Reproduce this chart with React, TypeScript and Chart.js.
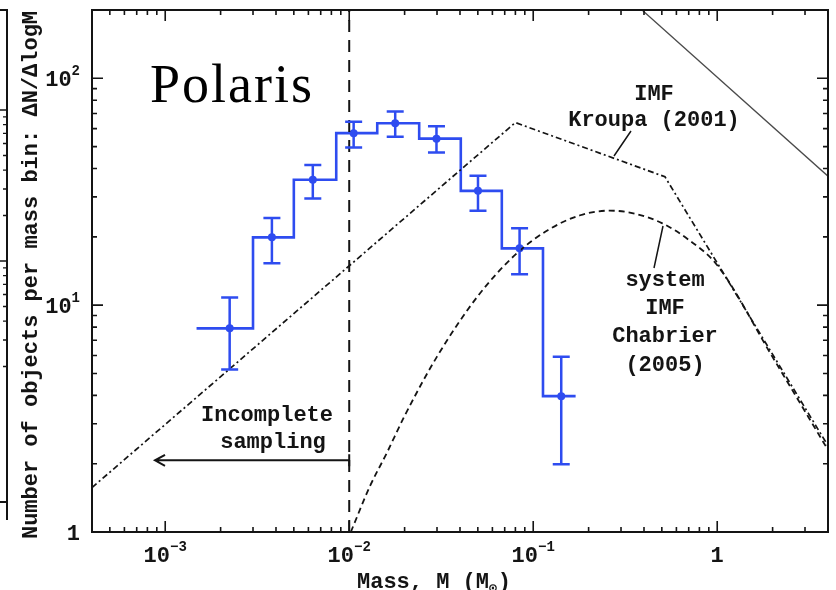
import React, { useEffect, useRef } from "react";
import { Chart, registerables } from "chart.js";

Chart.register(...registerables);

// Polaris mass function: log-spaced mass bins (Msun) and object counts per bin
const binEdges = [0.00148, 0.003, 0.005, 0.0085, 0.0142, 0.024, 0.0404, 0.0675, 0.113, 0.17];
const binMass = [0.00224, 0.0038, 0.00634, 0.01057, 0.01778, 0.0298, 0.0501, 0.0843, 0.142];
const binCounts = [7.9, 19.9, 35.7, 57.3, 63.4, 54.2, 31.9, 17.8, 3.97];
const countsHigh = [10.8, 24.2, 41.5, 64.4, 71.3, 61.5, 37.2, 21.8, 5.93];
const countsLow = [5.2, 15.3, 29.5, 49.5, 55.3, 47.1, 26.1, 13.7, 1.99];

// Kroupa (2001) IMF, broken power law vertices
const kroupaMass = [0.0004, 0.08, 0.52, 4];
const kroupaN = [1.57, 63.8, 36.8, 2.4];

// Chabrier (2005) system IMF
const chabrierMass = [0.0102, 0.013, 0.016, 0.02, 0.03, 0.05, 0.08, 0.12, 0.18, 0.26, 0.35, 0.5, 0.7, 1.0, 2.0, 4.0];
const chabrierN = [1.0, 1.6, 2.23, 3.25, 5.93, 10.96, 16.7, 21.4, 24.9, 26.1, 25.4, 23.0, 19.4, 15.0, 5.9, 2.3];

// thin solid reference line in the upper right corner
const refMass = [0.3, 4];
const refN = [242, 37];

// completeness limit and the "incomplete sampling" arrow
const completenessMass = 0.01;
const arrowTipMass = 0.00088;
const arrowLevel = 2.07;

// axis ticks (mantissa, exponent)
const xTickValues = [0.001, 0.01, 0.1, 1];
const xTickLabels: [string, string][] = [["10", "−3"], ["10", "−2"], ["10", "−1"], ["1", ""]];
const yTickValues = [1, 10, 100];
const yTickLabels: [string, string][] = [["1", ""], ["10", "1"], ["10", "2"]];

const X_MIN = 0.0004;
const X_MAX = 4;
const Y_MIN = 1;
const Y_MAX = 200;

const BLUE = "rgb(46, 76, 240)";
const INK = "#141414";
const MONO = '"Liberation Mono", "Courier New", monospace';
const LABEL_FONT = `bold 22px ${MONO}`;
const SUP_FONT = `bold 14px ${MONO}`;

function drawPower(ctx: CanvasRenderingContext2D, base: string, exp: string, x: number, y: number, align: "center" | "right") {
  ctx.font = LABEL_FONT;
  const wb = ctx.measureText(base).width;
  ctx.font = SUP_FONT;
  const we = exp ? ctx.measureText(exp).width : 0;
  const total = wb + we;
  const x0 = align === "center" ? x - total / 2 : x - total;
  ctx.textAlign = "left";
  ctx.textBaseline = "alphabetic";
  ctx.font = LABEL_FONT;
  ctx.fillText(base, x0, y);
  if (exp) {
    ctx.font = SUP_FONT;
    ctx.fillText(exp, x0 + wb, y - 11);
  }
}

const decorPlugin = {
  id: "decor",
  afterDatasetsDraw(chart: any) {
    const { ctx, scales } = chart;
    const xs = scales.x;
    const ys = scales.y;
    // error bars on the binned counts
    ctx.save();
    ctx.strokeStyle = BLUE;
    ctx.lineWidth = 2.5;
    binMass.forEach((m, i) => {
      const px = xs.getPixelForValue(m);
      const top = ys.getPixelForValue(countsHigh[i]);
      const bot = ys.getPixelForValue(countsLow[i]);
      ctx.beginPath();
      ctx.moveTo(px, top);
      ctx.lineTo(px, bot);
      ctx.moveTo(px - 8.5, top);
      ctx.lineTo(px + 8.5, top);
      ctx.moveTo(px - 8.5, bot);
      ctx.lineTo(px + 8.5, bot);
      ctx.stroke();
    });
    ctx.restore();
  },
  afterDraw(chart: any) {
    const { ctx, chartArea: a, scales } = chart;
    const xs = scales.x;
    const ys = scales.y;
    ctx.save();
    ctx.strokeStyle = INK;
    ctx.fillStyle = INK;

    // frame
    ctx.lineWidth = 2;
    ctx.strokeRect(a.left, a.top, a.right - a.left, a.bottom - a.top);

    // log ticks, pointing inward on all four sides
    ctx.lineWidth = 1.6;
    ctx.beginPath();
    for (let n = -4; n <= 0; n++) {
      for (let k = 1; k <= 9; k++) {
        const v = k * Math.pow(10, n);
        if (v < X_MIN * 0.999 || v > X_MAX * 1.001) continue;
        const px = xs.getPixelForValue(v);
        const len = k === 1 ? 11 : 5;
        ctx.moveTo(px, a.bottom);
        ctx.lineTo(px, a.bottom - len);
        ctx.moveTo(px, a.top);
        ctx.lineTo(px, a.top + len);
      }
    }
    for (let n = 0; n <= 2; n++) {
      for (let k = 1; k <= 9; k++) {
        const v = k * Math.pow(10, n);
        if (v < Y_MIN * 0.999 || v > Y_MAX * 1.001) continue;
        const py = ys.getPixelForValue(v);
        const len = k === 1 ? 11 : 5;
        ctx.moveTo(a.left, py);
        ctx.lineTo(a.left + len, py);
        ctx.moveTo(a.right, py);
        ctx.lineTo(a.right - len, py);
      }
    }
    ctx.stroke();

    // tick labels
    xTickValues.forEach((v, i) => {
      drawPower(ctx, xTickLabels[i][0], xTickLabels[i][1], xs.getPixelForValue(v), a.bottom + 30, "center");
    });
    yTickValues.forEach((v, i) => {
      drawPower(ctx, yTickLabels[i][0], yTickLabels[i][1], a.left - 12, ys.getPixelForValue(v) + 8, "right");
    });

    // axis titles
    ctx.font = LABEL_FONT;
    ctx.textAlign = "left";
    ctx.textBaseline = "alphabetic";
    const xt = "Mass, M (M";
    const xtX = 357;
    const xtY = a.bottom + 56;
    ctx.fillText(xt, xtX, xtY);
    const wxt = ctx.measureText(xt).width;
    ctx.font = `bold 13px ${MONO}`;
    ctx.fillText("⊙", xtX + wxt, xtY + 4);
    const wsun = ctx.measureText("⊙").width;
    ctx.font = LABEL_FONT;
    ctx.fillText(")", xtX + wxt + wsun + 1, xtY);

    ctx.save();
    ctx.translate(37, 275);
    ctx.rotate(-Math.PI / 2);
    ctx.textAlign = "center";
    ctx.fillText("Number of objects per mass bin: ΔN/ΔlogM", 0, 0);
    ctx.restore();

    // curve annotations
    ctx.textAlign = "center";
    ctx.textBaseline = "middle";
    ctx.font = LABEL_FONT;
    ctx.fillText("IMF", 654, 94);
    ctx.fillText("Kroupa (2001)", 654, 120);
    ctx.fillText("system", 665, 280);
    ctx.fillText("IMF", 665, 308);
    ctx.fillText("Chabrier", 665, 336);
    ctx.fillText("(2005)", 665, 365);
    ctx.fillText("Incomplete", 267, 415);
    ctx.fillText("sampling", 273, 442);

    ctx.lineWidth = 1.5;
    ctx.beginPath();
    ctx.moveTo(631, 131);
    ctx.lineTo(614, 156);
    ctx.moveTo(654, 268);
    ctx.lineTo(663, 226);
    ctx.stroke();

    // incomplete-sampling arrow
    const ax0 = xs.getPixelForValue(completenessMass);
    const ax1 = xs.getPixelForValue(arrowTipMass);
    const ay = ys.getPixelForValue(arrowLevel);
    ctx.lineWidth = 2;
    ctx.beginPath();
    ctx.moveTo(ax0, ay);
    ctx.lineTo(ax1, ay);
    ctx.moveTo(ax1 + 10, ay - 5.5);
    ctx.lineTo(ax1, ay);
    ctx.lineTo(ax1 + 10, ay + 5.5);
    ctx.moveTo(ax0, ay - 6);
    ctx.lineTo(ax0, ay + 6);
    ctx.stroke();

    // title
    ctx.font = '54px "Liberation Serif", "Times New Roman", serif';
    (ctx as any).letterSpacing = "2px";
    ctx.textAlign = "left";
    ctx.textBaseline = "alphabetic";
    ctx.fillStyle = "#000";
    ctx.fillText("Polaris", 150, 102);
    (ctx as any).letterSpacing = "0px";

    // edge of the neighbouring panel
    ctx.lineWidth = 2;
    ctx.beginPath();
    ctx.moveTo(0, 10);
    ctx.lineTo(7, 10);
    ctx.lineTo(7, 520);
    ctx.moveTo(0, 502);
    ctx.lineTo(7, 502);
    ctx.stroke();
    ctx.lineWidth = 1.4;
    ctx.beginPath();
    for (let k = 2; k <= 100; k++) {
      const mant = k <= 10 ? k / 10 : k % 10 === 0 ? k / 10 : -1;
      if (mant < 0) continue;
      const logv = Math.log10(mant);
      const py = 261 - 151 * (logv + 1) + 151;
      if (py < 14 || py > 498) continue;
      const major = Math.abs(logv - Math.round(logv)) < 1e-6;
      ctx.moveTo(7, py);
      ctx.lineTo(major ? 0 : 3, py);
    }
    ctx.stroke();

    ctx.restore();
  },
};

export default function App() {
  const canvasRef = useRef<HTMLCanvasElement | null>(null);

  useEffect(() => {
    const canvas = canvasRef.current;
    if (!canvas) return;

    const stepPoints: { x: number; y: number }[] = [];
    binCounts.forEach((c, i) => {
      stepPoints.push({ x: binEdges[i], y: c }, { x: binEdges[i + 1], y: c });
    });

    const chart = new Chart(canvas, {
      type: "line",
      data: {
        datasets: [
          {
            label: "reference",
            data: refMass.map((m, i) => ({ x: m, y: refN[i] })),
            borderColor: "#4a4a4a",
            borderWidth: 1.3,
            pointRadius: 0,
          },
          {
            label: "Kroupa (2001)",
            data: kroupaMass.map((m, i) => ({ x: m, y: kroupaN[i] })),
            borderColor: INK,
            borderWidth: 1.7,
            borderDash: [6, 3, 2, 3],
            pointRadius: 0,
          },
          {
            label: "Chabrier (2005)",
            data: chabrierMass.map((m, i) => ({ x: m, y: chabrierN[i] })),
            borderColor: INK,
            borderWidth: 1.8,
            borderDash: [6, 4],
            cubicInterpolationMode: "monotone",
            pointRadius: 0,
          },
          {
            label: "completeness",
            data: [
              { x: completenessMass, y: Y_MIN },
              { x: completenessMass, y: Y_MAX },
            ],
            borderColor: INK,
            borderWidth: 2,
            borderDash: [12, 8],
            pointRadius: 0,
          },
          {
            label: "Polaris histogram",
            data: stepPoints,
            borderColor: BLUE,
            borderWidth: 2.6,
            pointRadius: 0,
          },
          {
            label: "Polaris",
            data: binMass.map((m, i) => ({ x: m, y: binCounts[i] })),
            showLine: false,
            pointRadius: 4,
            pointStyle: "circle",
            pointBackgroundColor: BLUE,
            pointBorderColor: BLUE,
            pointBorderWidth: 0,
          },
        ],
      },
      options: {
        responsive: false,
        animation: false,
        devicePixelRatio: 1,
        layout: { padding: { left: 92, right: 8, top: 10, bottom: 58 } },
        scales: {
          x: { type: "logarithmic", min: X_MIN, max: X_MAX, display: false },
          y: { type: "logarithmic", min: Y_MIN, max: Y_MAX, display: false },
        },
        plugins: {
          legend: { display: false },
          tooltip: { enabled: false },
        },
        events: [],
      },
      plugins: [decorPlugin],
    } as any);

    return () => chart.destroy();
  }, []);

  return (
    <div style={{ position: "absolute", left: 0, top: 0, width: 836, height: 590, background: "#fff" }}>
      <canvas ref={canvasRef} width={836} height={590} style={{ display: "block" }} />
    </div>
  );
}
